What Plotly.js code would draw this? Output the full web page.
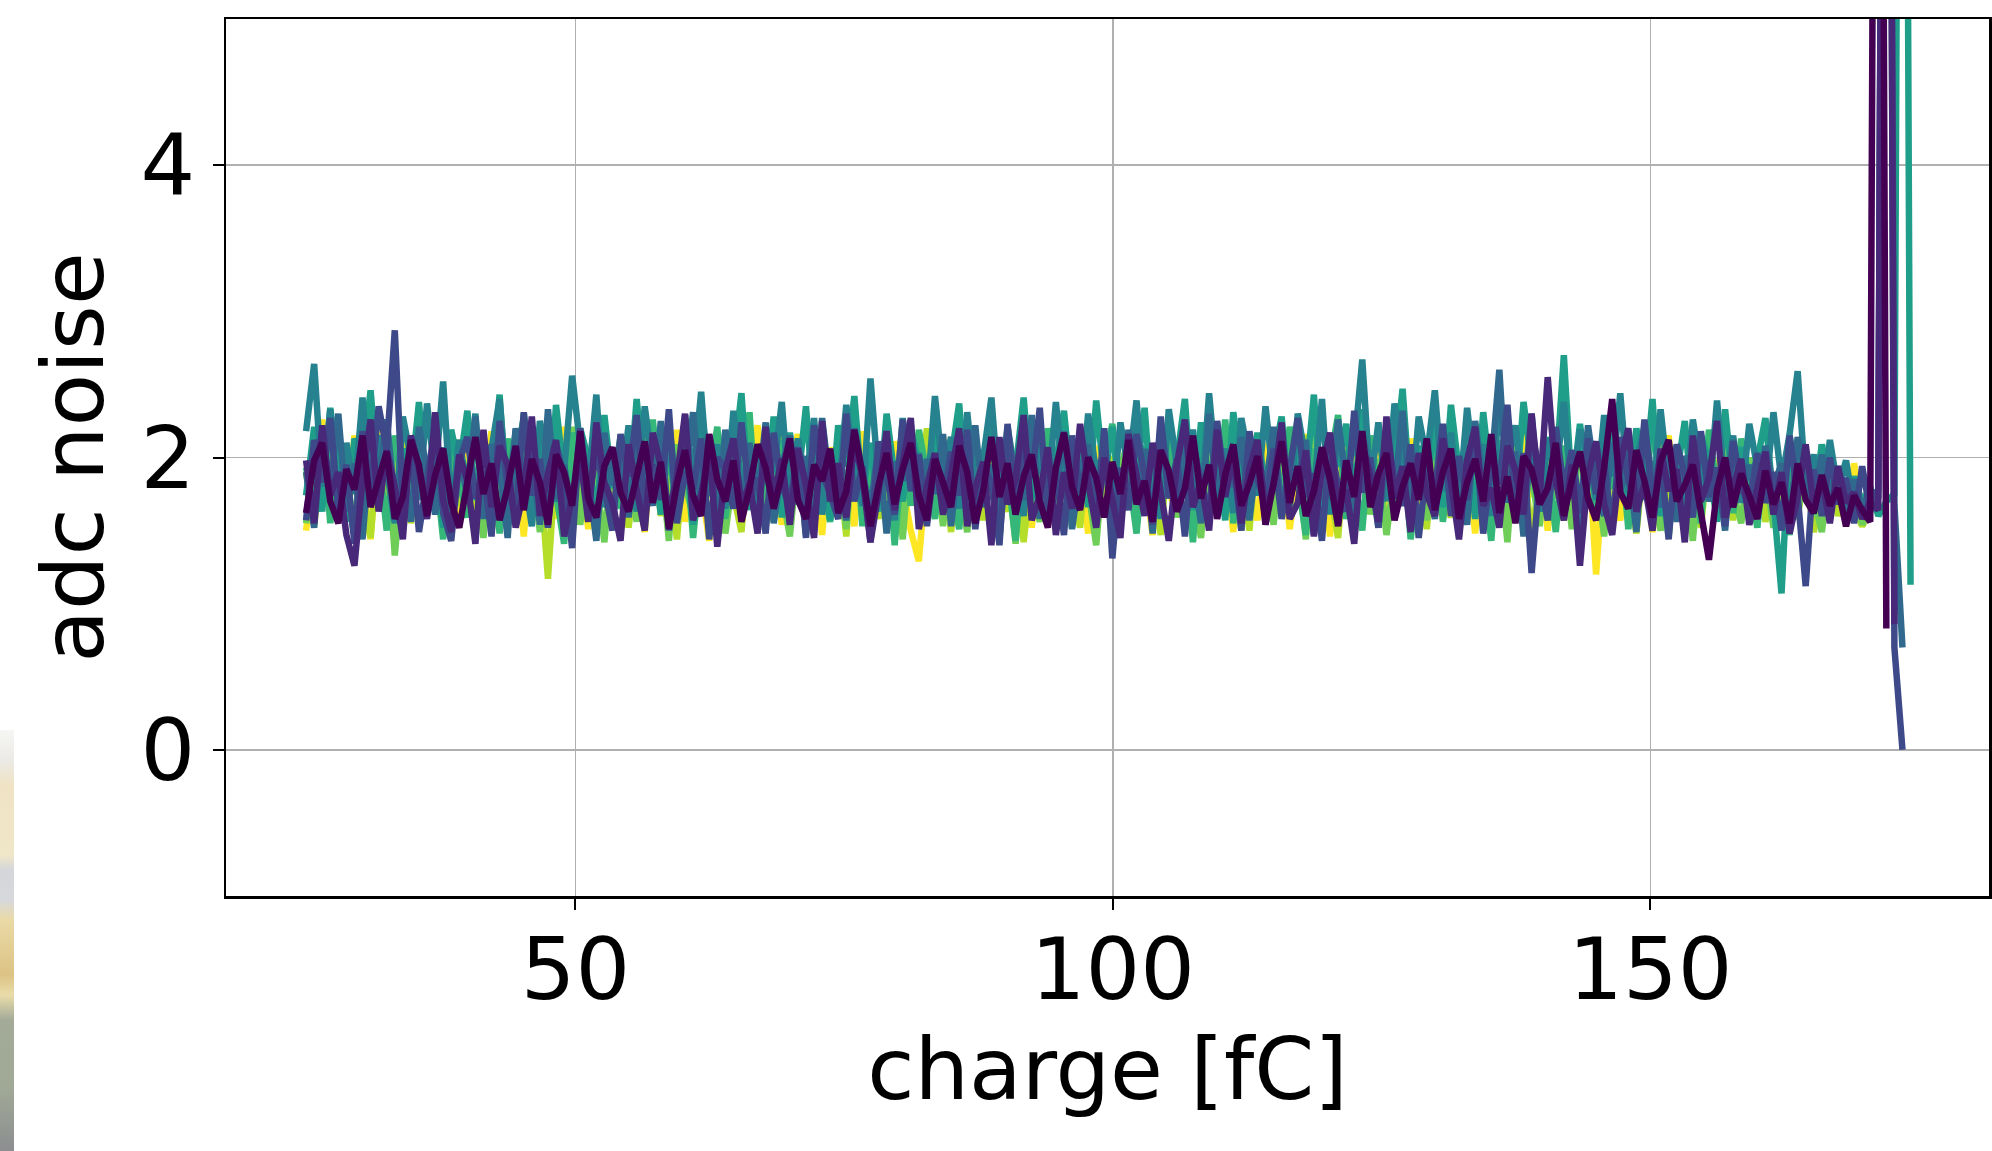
<!DOCTYPE html>
<html>
<head>
<meta charset="utf-8">
<script src="https://cdn.plot.ly/plotly-3.0.1.min.js"></script>
<style>
  html, body { margin: 0; padding: 0; background: #ffffff; }
  #chart { width: 1992px; height: 1151px; position: absolute; left: 0; top: 0; }
  #strip { position: absolute; left: 0; top: 730px; width: 14px; height: 421px; z-index: 5;
    background: linear-gradient(to bottom, #f6f6f4 0px, #ebeae6 30px, #efe3c4 55px, #f0e6c8 125px,
      #d4d6da 140px, #d6d8dc 170px, #ead9a6 190px, #dcc384 245px, #eadcaa 265px,
      #a3ab98 290px, #a0a896 360px, #8c8e90 421px); }
</style>
</head>
<body>
<div id="chart"></div>
<div id="strip"></div>
<script>
// charge axis values [fC]
const charge = [
24.95,25.7,26.45,27.2,27.95,28.7,29.45,30.2,30.95,31.7,32.45,33.2,33.95,34.7,35.45,36.2,36.95,37.7,38.45,39.2,
39.95,40.7,41.45,42.2,42.95,43.7,44.45,45.2,45.95,46.7,47.45,48.2,48.95,49.7,50.45,51.2,51.95,52.7,53.45,54.2,
54.95,55.7,56.45,57.2,57.95,58.7,59.45,60.2,60.95,61.7,62.45,63.2,63.95,64.7,65.45,66.2,66.95,67.7,68.45,69.2,
69.95,70.7,71.45,72.2,72.95,73.7,74.45,75.2,75.95,76.7,77.45,78.2,78.95,79.7,80.45,81.2,81.95,82.7,83.45,84.2,
84.95,85.7,86.45,87.2,87.95,88.7,89.45,90.2,90.95,91.7,92.45,93.2,93.95,94.7,95.45,96.2,96.95,97.7,98.45,99.2,
99.95,100.7,101.45,102.2,102.95,103.7,104.45,105.2,105.95,106.7,107.45,108.2,108.95,109.7,110.45,111.2,111.95,112.7,113.45,114.2,
114.95,115.7,116.45,117.2,117.95,118.7,119.45,120.2,120.95,121.7,122.45,123.2,123.95,124.7,125.45,126.2,126.95,127.7,128.45,129.2,
129.95,130.7,131.45,132.2,132.95,133.7,134.45,135.2,135.95,136.7,137.45,138.2,138.95,139.7,140.45,141.2,141.95,142.7,143.45,144.2,
144.95,145.7,146.45,147.2,147.95,148.7,149.45,150.2,150.95,151.7,152.45,153.2,153.95,154.7,155.45,156.2,156.95,157.7,158.45,159.2,
159.95,160.7,161.45,162.2,162.95,163.7,164.45,165.2,165.95,166.7,167.45,168.2,168.95,169.7,170.45,171.2,171.95,172.7,173.45,174.2
];

// adc noise per channel (channel 0 drawn last, on top)
const noiseCh0 = [
1.62,1.98,2.10,1.70,1.55,1.92,1.78,2.15,1.66,1.84,2.04,1.58,1.73,2.12,1.95,1.60,1.88,2.06,1.69,1.52,
1.86,2.14,1.75,1.96,1.57,1.80,2.08,1.64,1.99,1.83,1.54,2.02,1.90,1.67,2.18,1.72,1.59,1.94,2.07,1.76,
1.63,1.87,2.11,1.69,1.97,1.51,1.82,2.05,1.74,1.60,2.16,1.85,1.70,1.98,1.56,1.79,2.09,1.93,1.65,1.88,
2.13,1.71,1.58,1.95,1.84,2.06,1.62,1.77,2.19,1.89,1.53,1.81,2.03,1.68,1.92,2.10,1.74,1.57,1.99,1.83,
1.66,2.08,1.90,1.55,1.78,2.14,1.73,1.96,1.61,1.87,2.02,1.70,1.52,1.93,2.17,1.80,1.64,2.00,1.86,1.59,
1.97,1.75,2.12,1.68,1.84,1.56,2.05,1.91,1.63,1.79,2.15,1.72,1.95,1.58,1.88,2.09,1.67,1.82,2.01,1.54,
1.81,2.11,1.69,1.94,1.60,1.77,2.07,1.85,1.53,1.98,1.73,2.18,1.66,1.89,2.03,1.57,1.80,1.96,1.71,2.13,
1.64,1.90,2.06,1.58,1.83,1.99,1.70,2.16,1.62,1.87,1.55,2.01,1.92,1.68,1.79,2.10,1.60,1.85,2.04,1.72,
1.57,1.93,2.40,1.76,1.65,2.05,1.84,1.59,1.97,2.12,1.70,1.81,1.95,1.62,1.30,1.78,2.00,1.66,1.89,1.74,
1.58,1.91,1.68,1.83,1.55,1.96,1.71,1.62,1.88,1.67,1.79,1.53,1.74,1.64,1.56,14,0.83
];
const noiseCh1 = [
1.98,1.55,2.22,1.74,1.90,1.47,1.26,1.85,2.26,1.63,2.05,1.80,1.44,2.15,1.92,1.58,2.31,1.71,1.49,2.02,
1.84,1.41,2.19,1.66,2.08,1.95,1.52,1.77,2.28,1.60,1.89,2.12,1.46,1.73,2.01,1.56,2.24,1.83,1.69,1.43,
2.09,1.78,1.50,2.17,1.94,1.62,1.86,2.30,1.57,1.75,2.04,1.39,1.91,2.13,1.67,1.82,1.48,2.21,1.72,1.99,
1.54,2.06,1.81,1.45,2.25,1.70,1.96,1.59,2.11,1.87,1.42,1.76,2.18,1.64,1.93,2.27,1.51,1.80,2.03,1.61,
1.88,2.20,1.53,1.79,1.97,1.40,2.14,1.68,1.85,2.29,1.57,1.74,2.07,1.47,1.90,1.65,2.23,1.83,1.52,2.00,
1.71,1.45,2.16,1.89,1.60,2.10,1.76,1.43,1.95,2.26,1.66,1.84,1.50,2.19,1.73,2.02,1.55,1.92,2.12,1.62,
1.81,2.24,1.58,1.69,2.05,1.46,1.93,2.17,1.64,1.78,1.41,2.09,1.87,1.56,2.28,1.72,1.94,1.49,2.03,1.75,
1.60,2.13,1.83,1.44,1.98,2.21,1.67,1.79,1.52,2.08,1.91,1.61,2.30,1.75,2.55,1.84,1.57,1.95,1.26,1.88,
2.11,1.68,1.47,1.96,2.20,1.63,1.82,1.50,2.06,1.77,1.92,1.42,2.15,1.70,1.86,2.25,1.59,1.78,1.99,1.54,
1.80,2.04,1.61,1.90,1.48,1.73,2.09,1.66,1.85,1.55,1.94,1.69,1.76,1.58,1.70,1.64,14,0.86
];
const noiseCh2 = [
1.57,2.12,1.83,2.27,1.64,1.95,1.41,2.18,1.76,2.35,2.05,2.87,1.68,2.09,1.49,1.88,2.21,1.62,1.43,1.97,
2.14,1.72,1.91,1.46,2.25,1.80,1.60,2.31,1.74,1.99,1.52,2.10,1.85,1.38,2.20,1.69,2.03,1.79,1.50,2.16,
1.87,2.29,1.63,1.95,1.71,2.33,1.55,1.90,1.78,2.13,1.44,2.00,1.92,1.65,2.24,1.73,1.86,1.48,2.17,1.81,
1.66,2.07,1.45,2.22,1.89,1.75,1.58,2.30,1.70,1.94,1.42,2.11,1.84,1.61,2.26,1.77,2.02,1.53,1.98,1.67,
2.04,1.74,2.19,1.51,1.96,1.82,1.40,2.23,1.69,2.08,1.86,2.34,1.59,1.90,1.47,2.15,1.76,2.01,1.56,2.20,
1.31,1.93,1.64,2.16,1.88,1.54,2.28,1.72,1.99,1.46,2.10,1.83,1.62,2.25,1.79,1.97,1.50,2.18,1.85,1.68,
2.06,1.58,1.92,2.27,1.73,1.89,1.43,2.12,1.80,1.63,2.32,1.76,2.00,1.52,2.19,1.84,1.67,2.09,1.45,1.94,
1.78,2.23,1.60,2.01,1.71,2.17,1.48,1.95,1.82,2.36,1.66,2.03,1.21,1.87,1.57,2.21,1.79,2.05,1.62,2.13,
1.75,1.96,1.51,2.14,1.85,1.64,2.26,1.70,2.02,1.44,2.09,1.88,1.59,2.18,1.73,1.93,1.53,2.11,1.81,1.65,
2.03,1.69,1.90,1.50,2.15,1.74,1.12,1.92,1.60,2.00,1.68,1.86,1.55,1.94,1.63,1.78,14,0.70,0.0
];
const noiseCh3 = [
1.90,1.52,2.18,1.79,2.30,1.63,1.96,1.44,2.11,1.85,2.26,1.70,1.99,1.56,2.21,1.88,1.61,2.07,1.47,2.02,
1.74,2.28,1.58,2.09,1.93,1.45,2.20,1.77,2.04,1.54,2.33,1.72,1.95,1.62,2.14,1.86,1.43,2.17,1.81,2.00,
1.59,2.12,1.91,1.67,2.25,1.50,1.98,1.83,2.31,1.64,2.03,1.46,2.19,1.87,1.60,2.10,1.73,2.24,1.55,1.94,
2.15,1.68,2.01,1.49,2.27,1.80,1.92,1.57,2.20,1.89,1.65,2.08,1.48,1.97,1.84,2.23,1.62,1.99,1.75,2.16,
1.53,2.05,1.82,2.22,1.66,1.95,1.44,2.13,1.88,1.71,2.29,1.58,2.02,1.79,2.18,1.51,1.90,2.09,1.67,2.00,
1.87,1.61,2.19,1.76,2.06,1.48,2.24,1.84,1.64,2.11,1.92,1.55,2.30,1.73,1.98,1.80,2.14,1.57,2.03,1.78,
2.21,1.63,1.94,1.85,2.12,1.47,2.01,1.72,2.26,1.81,1.59,2.17,1.89,1.52,2.07,1.76,2.32,1.65,1.96,1.86,
1.58,2.09,1.78,2.00,1.54,2.25,1.83,1.93,2.60,1.69,2.04,1.46,2.18,1.90,1.62,2.13,1.74,1.99,1.51,2.22,
1.82,1.60,2.10,1.77,1.97,1.49,2.19,1.86,1.66,2.06,1.56,2.01,1.84,2.15,1.70,1.92,1.50,2.12,1.75,1.95,
1.62,2.08,1.80,1.96,1.54,2.14,1.87,1.68,2.02,1.73,1.91,1.57,1.85,1.66,1.77,1.75,14,1.68,0.70
];
const noiseCh4 = [
2.18,2.64,1.80,2.33,1.62,2.10,1.75,2.41,1.68,2.15,1.92,1.55,2.28,2.00,1.71,2.37,1.86,2.52,1.64,2.12,
1.78,2.30,1.60,2.06,2.40,1.72,2.19,1.89,1.53,2.25,1.97,1.70,1.91,2.56,2.08,1.82,2.43,1.66,2.02,1.77,
2.22,1.63,2.35,1.94,1.73,2.16,1.58,2.29,1.85,2.45,1.74,2.09,1.65,2.32,1.80,2.01,1.59,2.20,1.90,2.38,
1.69,2.13,1.83,2.27,1.61,2.05,1.76,2.36,1.93,1.67,2.54,1.84,2.18,1.57,2.27,1.79,2.03,1.72,2.42,1.88,
2.14,1.65,2.31,1.78,2.00,2.41,1.70,2.21,1.87,1.60,2.26,1.96,1.75,2.38,1.81,2.11,1.68,2.30,1.89,2.04,
1.66,2.24,1.91,2.39,1.73,2.08,1.58,2.33,1.95,1.79,2.19,1.69,2.44,1.83,2.06,1.62,2.27,1.97,1.74,2.35,
1.84,2.15,1.67,2.30,1.98,1.76,2.40,1.61,2.20,1.90,2.07,2.67,1.80,2.24,1.70,2.37,1.93,1.64,2.28,1.99,
2.46,1.77,2.17,1.68,2.34,1.88,2.09,1.60,2.42,1.96,2.22,1.74,2.30,1.63,2.13,1.85,2.38,1.72,2.19,2.01,
1.71,2.29,1.87,2.44,1.76,1.99,2.21,1.66,2.33,1.82,2.08,1.62,2.26,1.91,1.73,2.39,1.79,2.15,1.69,2.23,
1.93,1.74,2.31,1.84,2.16,2.59,1.81,2.02,1.67,2.12,1.78,1.98,1.65,1.90,1.76
];
const noiseCh5 = [
1.74,2.21,1.63,2.34,1.90,1.56,2.13,1.97,2.46,1.77,2.25,1.60,2.06,1.83,2.38,1.68,2.01,1.52,2.19,1.93,
2.32,1.71,2.05,1.80,2.43,1.62,1.98,2.27,1.73,2.11,1.55,2.36,1.86,1.67,2.20,1.99,1.58,2.29,1.79,2.14,
1.69,2.40,1.84,2.03,1.61,2.24,1.76,2.09,1.54,2.33,1.91,1.70,2.18,1.95,2.44,1.64,2.07,1.81,2.28,1.59,
2.17,1.82,2.35,1.66,2.02,1.57,2.22,1.94,2.42,1.75,2.10,1.63,2.30,1.87,1.70,2.19,1.96,1.58,2.26,1.78,
1.99,2.37,1.65,2.12,1.83,2.29,1.56,2.04,1.92,2.41,1.72,2.18,1.60,1.97,2.32,1.76,2.11,1.66,2.39,1.85,
2.21,1.70,2.06,1.88,2.34,1.61,2.14,1.74,1.98,2.40,1.64,2.24,1.82,2.01,1.57,2.31,1.92,1.71,2.17,1.80,
2.00,2.28,1.67,2.13,1.84,2.43,1.62,2.05,1.94,2.23,1.73,2.33,1.87,1.59,2.18,1.96,2.47,1.70,2.08,1.79,
2.26,1.66,2.36,1.90,2.09,1.58,2.31,1.81,2.02,2.20,1.69,2.38,1.95,1.63,2.14,1.86,2.70,1.75,2.23,1.83,
2.11,1.65,2.29,1.91,1.72,2.20,1.82,2.40,1.60,2.03,1.88,2.25,1.67,2.15,1.97,1.56,2.33,1.78,2.07,1.89,
1.98,2.27,1.71,1.07,2.15,1.80,2.01,1.62,2.09,1.76,1.94,1.61,1.87,1.69,1.80,1.60,1.70,1.75,14,1.13
];
const noiseCh6 = [
1.93,1.64,2.20,1.55,2.07,1.81,1.46,2.24,1.73,2.01,1.50,2.15,1.86,1.62,2.28,1.70,1.97,1.44,2.09,1.84,
1.59,2.19,1.77,2.03,1.48,2.13,1.68,2.30,1.87,1.57,2.06,1.75,1.41,2.17,1.95,1.60,2.22,1.78,2.00,1.65,
2.11,1.80,1.52,2.26,1.71,2.04,1.61,2.14,1.45,1.99,1.83,2.21,1.58,2.05,1.69,2.31,1.49,1.94,1.79,2.12,
1.63,2.01,1.47,2.18,1.88,1.56,2.09,1.74,2.25,1.53,1.96,1.82,2.14,1.40,2.03,1.67,2.19,1.90,1.58,2.07,
1.85,1.51,2.13,1.72,1.98,2.27,1.57,1.92,1.43,2.10,1.79,1.64,2.20,1.88,1.52,2.04,1.73,2.16,1.61,1.95,
2.23,1.69,1.90,1.48,2.08,1.84,1.59,2.19,1.76,1.99,1.42,2.12,1.89,1.65,2.26,1.55,2.02,1.80,2.14,1.54,
1.96,1.66,2.21,1.83,1.47,2.06,1.72,1.98,2.29,1.58,1.89,1.50,2.15,1.77,1.97,1.63,2.10,1.44,1.93,1.86,
2.17,1.56,2.03,1.76,2.20,1.62,1.91,1.43,2.12,1.81,2.00,1.57,2.25,1.70,1.95,1.49,2.08,1.87,1.66,2.18,
1.60,1.97,1.79,2.11,1.51,2.02,1.71,2.23,1.85,1.46,2.07,1.74,1.94,1.55,2.19,1.78,1.99,1.62,2.13,1.84,
1.52,2.05,1.70,1.90,1.47,2.01,1.82,1.61,2.09,1.68,1.92,1.56,1.86,1.64,1.74
];
const noiseCh7 = [
1.55,2.02,1.74,2.16,1.60,1.89,1.47,2.20,1.80,1.66,2.09,1.33,1.94,1.62,2.23,1.71,2.04,1.50,1.86,2.12,
1.68,1.93,1.45,2.08,1.82,1.57,2.17,1.75,2.00,1.49,2.11,1.78,1.63,2.21,1.54,1.97,1.84,1.42,2.06,1.72,
1.91,1.56,2.14,1.69,1.98,1.43,2.09,1.81,1.60,2.19,1.73,1.99,1.48,1.88,2.13,1.65,2.03,1.52,2.17,1.77,
1.46,2.01,1.85,1.58,2.14,1.70,1.96,1.51,2.22,1.79,1.61,2.06,1.72,1.98,1.44,2.10,1.87,1.64,2.02,1.53,
2.07,1.76,1.49,1.99,1.83,2.18,1.63,1.90,1.41,2.12,1.80,1.56,2.05,1.69,2.15,1.52,1.95,1.78,1.40,2.04,
1.71,1.92,2.13,1.55,2.00,1.67,1.86,2.20,1.59,1.97,1.74,1.45,2.09,1.84,1.62,2.03,1.50,2.16,1.75,1.89,
1.54,2.08,1.79,1.95,1.44,2.19,1.68,1.91,1.58,2.05,1.83,2.12,1.61,1.99,1.47,1.88,2.21,1.73,1.94,1.57,
2.03,1.69,2.11,1.48,1.92,1.81,2.06,1.60,1.98,1.42,2.15,1.76,1.87,1.53,2.08,1.72,1.96,1.51,2.18,1.78,
1.88,1.46,2.04,1.74,2.13,1.59,1.97,1.82,1.50,2.10,1.67,1.93,1.43,2.05,1.83,1.62,2.12,1.76,1.55,2.00,
1.69,1.90,1.52,1.98,1.77,1.58,2.04,1.71,1.49,1.93,1.75,1.60,1.86,1.54,1.68
];
const noiseCh8 = [
1.90,1.53,2.06,1.69,2.14,1.58,1.95,1.76,1.45,2.10,1.83,1.62,2.18,1.55,2.01,1.72,1.93,1.48,2.12,1.67,
1.98,1.59,2.11,1.77,1.50,2.03,1.70,2.16,1.61,1.92,1.17,1.99,1.47,2.07,1.74,1.56,2.19,1.81,1.64,2.04,
1.52,1.96,1.71,2.13,1.60,1.89,1.44,2.08,1.79,1.63,2.15,1.57,2.00,1.75,1.49,2.10,1.68,1.94,1.56,2.17,
1.73,2.02,1.51,1.91,2.09,1.66,1.99,1.46,2.16,1.71,1.87,1.58,2.12,1.78,1.53,2.05,1.69,2.20,1.62,1.95,
1.49,2.08,1.76,1.97,1.57,2.14,1.84,1.63,2.03,1.42,1.94,1.72,2.11,1.60,1.98,1.80,1.52,2.07,1.86,1.67,
2.01,1.58,1.92,2.12,1.65,1.88,1.47,2.08,1.74,1.96,1.55,2.17,1.78,1.61,2.04,1.70,1.93,1.50,2.10,1.79,
1.60,2.05,1.73,1.90,2.15,1.54,1.97,1.76,1.45,2.09,1.67,2.00,1.82,1.56,2.18,1.72,1.95,1.63,2.03,1.51,
2.12,1.77,1.59,1.99,1.69,2.16,1.50,1.91,1.81,2.06,1.62,2.01,1.44,1.89,1.74,2.10,1.57,1.96,1.68,2.14,
1.64,1.93,1.55,2.07,1.80,1.48,2.03,1.71,2.13,1.59,1.97,1.75,1.88,1.52,2.06,1.70,1.92,1.57,2.11,1.73,
1.95,1.56,1.86,1.68,2.02,1.61,1.90,1.49,1.79,1.97,1.60,1.84,1.66,1.53,1.64
];
const noiseCh9 = [
1.50,1.96,2.26,1.66,2.04,1.57,2.15,1.78,1.44,2.20,1.72,1.99,1.54,2.10,1.83,1.61,2.24,1.69,1.95,1.52,
2.06,1.73,1.55,2.18,1.81,1.60,2.03,1.46,2.12,1.75,1.97,1.58,2.21,1.68,1.92,1.51,2.08,1.79,1.59,2.14,
1.70,2.00,1.49,2.11,1.77,1.63,2.19,1.56,1.95,1.82,1.43,2.05,1.74,2.13,1.55,1.90,2.22,1.65,2.01,1.54,
1.85,2.16,1.60,1.98,1.47,2.07,1.72,1.89,1.53,2.18,1.69,2.02,1.58,2.11,1.80,1.50,1.29,1.94,1.67,2.14,
1.56,2.01,1.79,2.09,1.62,1.92,1.45,2.17,1.71,1.99,1.52,2.05,1.83,1.60,2.20,1.70,1.96,1.48,2.08,1.76,
1.97,1.59,2.12,1.68,1.88,1.47,2.15,1.77,1.62,2.03,1.53,1.93,2.19,1.66,2.00,1.49,2.06,1.81,1.57,2.10,
1.67,2.02,1.51,1.91,2.16,1.70,1.98,1.46,2.10,1.61,1.89,2.21,1.64,2.04,1.55,1.95,1.75,2.13,1.52,2.00,
1.80,1.58,2.08,1.71,1.99,1.48,2.14,1.66,1.93,1.78,1.56,2.18,1.73,2.01,1.50,2.06,1.69,1.90,1.54,2.12,
1.20,1.97,1.74,1.57,2.09,1.68,2.02,1.49,1.92,2.15,1.63,1.87,1.52,2.05,1.72,1.99,1.59,2.11,1.77,1.61,
2.00,1.65,1.90,1.53,2.06,1.71,1.94,1.58,2.03,1.68,1.85,1.55,1.96,1.62,1.69
];

const channels = [noiseCh0, noiseCh1, noiseCh2, noiseCh3, noiseCh4, noiseCh5, noiseCh6, noiseCh7, noiseCh8, noiseCh9];
const xTicks = [50, 100, 150];
const yTicks = [0, 2, 4];
const xTitle = 'charge [fC]';
const yTitle = 'adc noise';

// styles (viridis samples)
const channelColors = ['#440154', '#482878', '#3e4989', '#31688e', '#26828e',
                       '#1f9e89', '#35b779', '#6ece58', '#b5de2b', '#fde725'];

const traces = [];
for (let k = channels.length - 1; k >= 0; k--) {
  traces.push({
    type: 'scatter', mode: 'lines',
    x: charge, y: channels[k],
    line: { color: channelColors[k], width: 6.5 },
    hoverinfo: 'skip', showlegend: false
  });
}

const FONT = 'DejaVu Sans, Liberation Sans, sans-serif';
const layout = {
  width: 1992, height: 1151,
  margin: { l: 226, r: 3, t: 19, b: 255, pad: 0 },
  paper_bgcolor: '#ffffff', plot_bgcolor: '#ffffff',
  font: { family: FONT, size: 86, color: '#000000' },
  showlegend: false,
  xaxis: {
    range: [17.5, 181.5], tickmode: 'array', tickvals: xTicks,
    ticks: 'outside', ticklen: 11, tickwidth: 2, tickcolor: '#000000',
    ticklabelstandoff: -14,
    showgrid: true, gridcolor: '#b0b0b0', gridwidth: 1.5, zeroline: false,
    showline: true, linecolor: '#000000', linewidth: 2.5, mirror: true,
    tickfont: { family: FONT, size: 86, color: '#000000' },
    title: { text: xTitle, font: { family: FONT, size: 86, color: '#000000' }, standoff: 10 },
    automargin: false
  },
  yaxis: {
    range: [-1, 5], tickmode: 'array', tickvals: yTicks,
    ticks: 'outside', ticklen: 11, tickwidth: 2, tickcolor: '#000000',
    showgrid: true, gridcolor: '#b0b0b0', gridwidth: 1.5, zeroline: false,
    showline: true, linecolor: '#000000', linewidth: 2.5, mirror: true,
    tickfont: { family: FONT, size: 86, color: '#000000' },
    title: { text: yTitle, font: { family: FONT, size: 86, color: '#000000' }, standoff: 9 },
    automargin: false
  }
};

Plotly.newPlot('chart', traces, layout, { staticPlot: true, displayModeBar: false });
</script>
</body>
</html>
